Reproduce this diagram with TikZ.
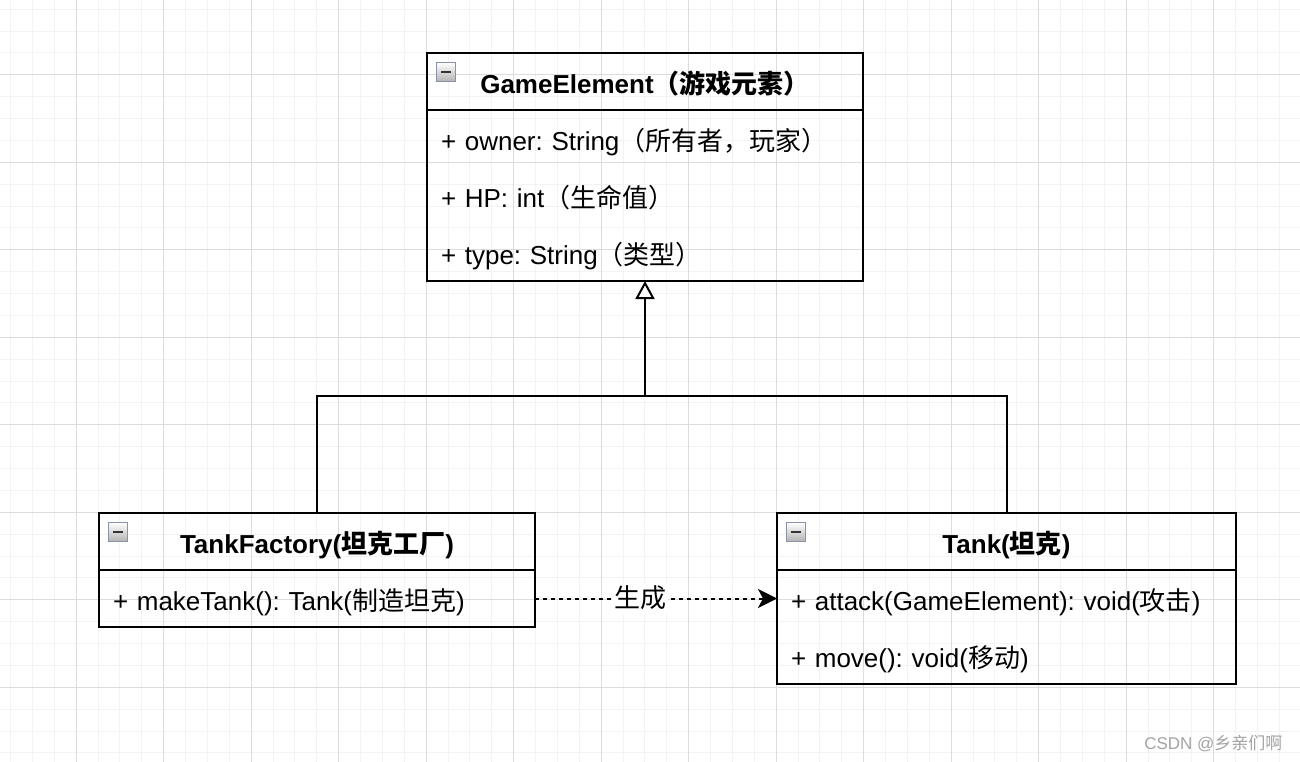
\documentclass[tikz,border=0pt]{standalone}
\usepackage{fontspec}
\setmainfont{Liberation Sans}
\newfontfamily\cjk{Noto Sans CJK SC}
\newcommand{\zh}[1]{{\cjk #1}}
\frenchspacing
\usetikzlibrary{positioning}
\usetikzlibrary{arrows.meta}
\definecolor{gridminor}{HTML}{F3F3F3}
\definecolor{gridmajor}{HTML}{DCDCDC}
\definecolor{iconedge}{HTML}{8A93A6}
\definecolor{markgray}{HTML}{A3A3A3}

\begin{document}
\begin{tikzpicture}[x=1pt,y=-1pt,node distance=0pt,
  every node/.append style={font=\fontsize{26}{31}\selectfont},
  umlhead/.style={draw, line width=2pt, outer sep=0pt, inner xsep=14pt, inner ysep=0pt, minimum height=57pt, text height=27pt, text depth=3pt, text width=#1, align=center, font=\fontsize{26}{31}\selectfont\bfseries},
  umlrow/.style={outer sep=0pt, inner xsep=14pt, inner ysep=0pt, minimum height=57pt, text height=27pt, text depth=3pt, text width=#1, align=left},
  umlbox/.style={draw, line width=2pt},
  minusicon/.style={draw=iconedge, line width=1.2pt, top color=white, bottom color=black!30},
  link/.style={line width=2pt, line join=miter},
  depend/.style={line width=2pt, dash pattern=on 4pt off 4pt, -{Stealth[length=19pt, width=19pt, inset=5pt]}},
  watermark/.style={text=markgray, font=\fontsize{17}{20}\selectfont}]
    \useasboundingbox (0,0) rectangle (1300,762);
    % background grid
    \foreach \i in {0,...,58} \draw[gridminor, line width=1pt] ({10.6+21.875*\i},0) -- ({10.6+21.875*\i},762);
    \foreach \i in {0,...,34} \draw[gridminor, line width=1pt] (0,{9.2+21.875*\i}) -- (1300,{9.2+21.875*\i});
    \foreach \i in {0,...,13} \draw[gridmajor, line width=1pt] ({76.3+87.5*\i},0) -- ({76.3+87.5*\i},762);
    \foreach \i in {0,...,7} \draw[gridmajor, line width=1pt] (0,{74.8+87.5*\i}) -- (1300,{74.8+87.5*\i});

    % GameElement
    \node [umlhead=408pt] (geHead) at (645,81.5) {GameElement\zh{（游戏元素）}};
    \node [umlrow=408pt, below=of geHead] (geOwner) {+ owner: String\zh{（所有者，玩家）}};
    \node [umlrow=408pt, below=of geOwner] (geHP) {+ HP: int\zh{（生命值）}};
    \node [umlrow=408pt, below=of geHP] (geType) {+ type: String\zh{（类型）}};
    \draw [umlbox] (geHead.north west) rectangle (geType.south east);

    % TankFactory
    \node [umlhead=408pt] (tfHead) at (317,541.5) {TankFactory(\zh{坦克工厂})};
    \node [umlrow=408pt, below=of tfHead] (tfMake) {+ makeTank(): Tank(\zh{制造坦克})};
    \draw [umlbox] (tfHead.north west) rectangle (tfMake.south east);

    % Tank
    \node [umlhead=431pt] (tankHead) at (1006.5,541.5) {Tank(\zh{坦克})};
    \node [umlrow=431pt, below=of tankHead] (tankAttack) {+ attack(GameElement): void(\zh{攻击})};
    \node [umlrow=431pt, below=of tankAttack] (tankMove) {+ move(): void(\zh{移动})};
    \draw [umlbox] (tankHead.north west) rectangle (tankMove.south east);

    \foreach \c in {geHead,tfHead,tankHead} {
      \draw [minusicon] ([shift={(9.5,9.5)}]\c.north west) rectangle ++(19,19);
      \draw [line width=2.5pt, black!80] ([shift={(14,19)}]\c.north west) -- ++(10,0);
    }

    % inheritance
    \coordinate (join) at (645,396);
    \draw [link] (tfHead.north) |- (join);
    \draw [link] (tankHead.north) |- (join);
    \draw [link, -{Triangle[open, length=18pt, width=19pt, fill=white]}] (join) -- (geType.south);

    % dependency
    \draw [depend] (tfMake.east) -- node [pos=0.435, fill=white, inner sep=2pt, text height=22pt, text depth=4pt] (make) {\zh{生成}} (tankAttack.west);

    \node [watermark, anchor=east] (mark) at (1286,744) {CSDN @\zh{乡亲们啊}};
\end{tikzpicture}
\end{document}
